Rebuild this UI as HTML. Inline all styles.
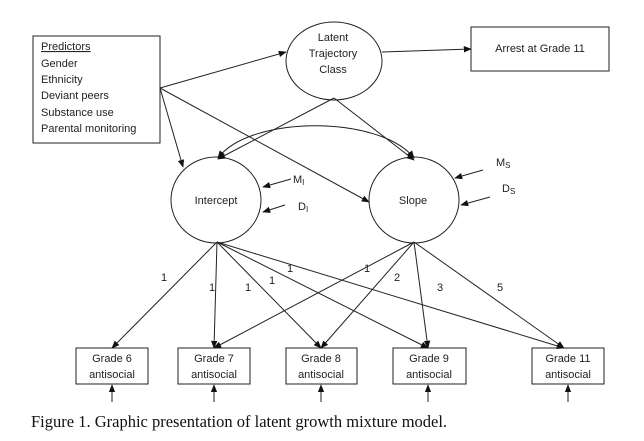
<!DOCTYPE html>
<html><head><style>body{margin:0;background:#fff}svg{display:block}</style></head><body>
<svg width="644" height="441" viewBox="0 0 644 441" xmlns="http://www.w3.org/2000/svg" font-family="Liberation Sans, sans-serif" font-size="11" fill="#222">
<defs><marker id="a" viewBox="0 0 10 10" refX="9" refY="5" markerWidth="8" markerHeight="8" orient="auto-start-reverse"><path d="M0,1 L10,5 L0,9z" fill="#111"/></marker></defs>
<g stroke="#222" stroke-width="1" fill="none">
<rect x="33" y="36" width="127" height="107"/>
<ellipse cx="334" cy="61" rx="48" ry="39"/>
<rect x="471" y="27" width="138" height="44"/>
<ellipse cx="216" cy="200" rx="45" ry="43"/>
<ellipse cx="414" cy="200" rx="45" ry="43"/>
<rect x="76" y="348" width="72" height="36"/>
<rect x="178" y="348" width="72" height="36"/>
<rect x="286" y="348" width="71" height="36"/>
<rect x="393" y="348" width="73" height="36"/>
<rect x="532" y="348" width="72" height="36"/>
<g marker-end="url(#a)">
<line x1="160" y1="88" x2="286" y2="52"/>
<line x1="160" y1="88" x2="183" y2="167"/>
<line x1="160" y1="88" x2="369" y2="202"/>
<line x1="382" y1="52" x2="471" y2="49"/>
<line x1="334" y1="98" x2="218" y2="159"/>
<line x1="334" y1="98" x2="414" y2="160"/>
<path d="M218,158 C250,115 380,115 414,158" marker-start="url(#a)"/>
<line x1="291" y1="179" x2="263" y2="187"/>
<line x1="285" y1="205" x2="263" y2="212"/>
<line x1="483" y1="170" x2="455" y2="178"/>
<line x1="490" y1="197" x2="461" y2="205"/>
<line x1="217" y1="242" x2="112" y2="348"/>
<line x1="217" y1="242" x2="214" y2="348"/>
<line x1="217" y1="242" x2="321" y2="348"/>
<line x1="217" y1="242" x2="428" y2="348"/>
<line x1="217" y1="242" x2="564" y2="348"/>
<line x1="414" y1="242" x2="214" y2="348"/>
<line x1="414" y1="242" x2="321" y2="348"/>
<line x1="414" y1="242" x2="428" y2="348"/>
<line x1="414" y1="242" x2="564" y2="348"/>
<line x1="112" y1="402" x2="112" y2="385"/>
<line x1="214" y1="402" x2="214" y2="385"/>
<line x1="321" y1="402" x2="321" y2="385"/>
<line x1="428" y1="402" x2="428" y2="385"/>
<line x1="568" y1="402" x2="568" y2="385"/>
</g></g>
<text x="41" y="50" text-decoration="underline">Predictors</text>
<text x="41" y="67">Gender</text>
<text x="41" y="83">Ethnicity</text>
<text x="41" y="99">Deviant peers</text>
<text x="41" y="116">Substance use</text>
<text x="41" y="132">Parental monitoring</text>
<g text-anchor="middle">
<text x="333" y="41">Latent</text><text x="333" y="57">Trajectory</text><text x="333" y="73">Class</text>
<text x="540" y="52">Arrest at Grade 11</text>
<text x="216" y="204">Intercept</text>
<text x="413" y="204">Slope</text>
<text x="112" y="362">Grade 6</text><text x="112" y="378">antisocial</text>
<text x="214" y="362">Grade 7</text><text x="214" y="378">antisocial</text>
<text x="321" y="362">Grade 8</text><text x="321" y="378">antisocial</text>
<text x="429" y="362">Grade 9</text><text x="429" y="378">antisocial</text>
<text x="568" y="362">Grade 11</text><text x="568" y="378">antisocial</text>
<text x="164" y="281">1</text><text x="212" y="291">1</text><text x="248" y="291">1</text><text x="272" y="284">1</text><text x="290" y="272">1</text><text x="367" y="272">1</text><text x="397" y="281">2</text><text x="440" y="291">3</text><text x="500" y="291">5</text>
</g>
<text x="293" y="183">M<tspan font-size="8" dy="2">I</tspan></text>
<text x="298" y="210">D<tspan font-size="8" dy="2">I</tspan></text>
<text x="496" y="166">M<tspan font-size="8" dy="2">S</tspan></text>
<text x="502" y="192">D<tspan font-size="8" dy="2">S</tspan></text>
<text x="31" y="427" font-family="Liberation Serif, serif" font-size="16.5" fill="#111">Figure 1.  Graphic presentation of latent growth mixture model.</text>
</svg>
</body></html>
